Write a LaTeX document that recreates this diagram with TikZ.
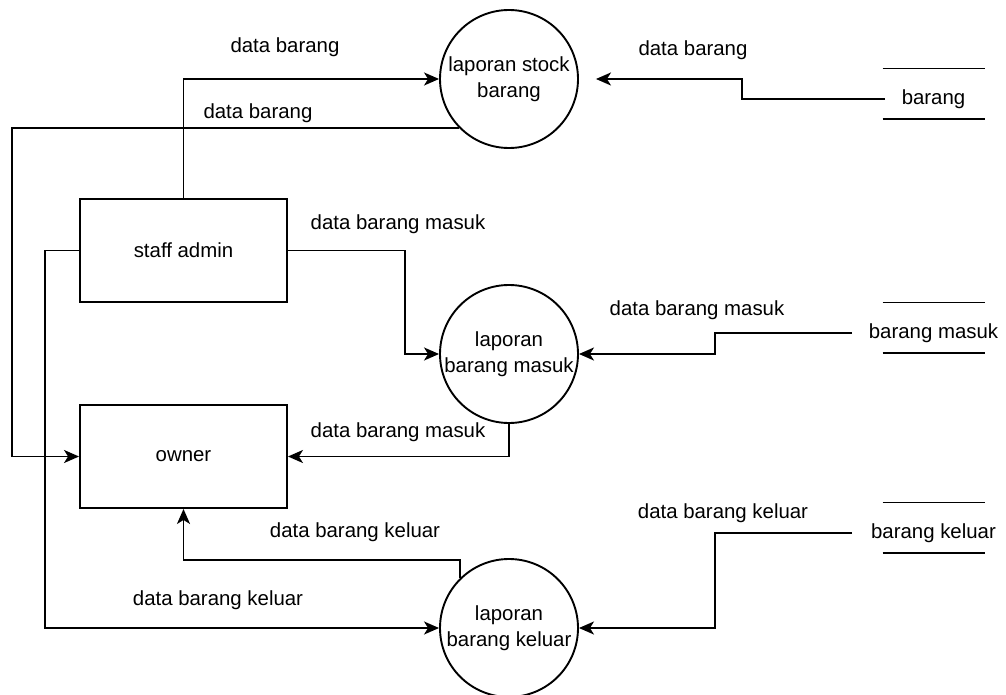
\documentclass[tikz,border=0pt]{standalone}
\usepackage{fontspec}
\setmainfont{Liberation Sans}
\usetikzlibrary{arrows.meta,calc}
\begin{document}
\begin{tikzpicture}[x=1pt,y=-1pt,
  font=\fontsize{20.4}{26}\selectfont,
  line width=1.9pt,
  flow/.style={draw, -{Stealth[length=15pt,width=13pt,inset=4pt]}},
  proc/.style={circle, draw, minimum size=138pt, inner sep=0pt, align=center},
  ent/.style={rectangle, draw, minimum width=207pt, minimum height=103pt, inner sep=0pt},
  store/.style={inner sep=0pt},
  lbl/.style={inner sep=0pt}
]
\useasboundingbox (0,0) rectangle (1006,695);

% processes
\node[proc] (stock)  at (509,79)  {laporan stock\\barang};
\node[proc] (masuk)  at (509,354) {laporan\\barang masuk};
\node[proc] (keluar) at (509,628) {laporan\\barang keluar};

% external entities
\node[ent] (staff) at (183.5,250.5) {staff admin};
\node[ent] (owner) at (183.5,456.5) {owner};

% data stores
\node[store] (dsb) at (933.5,99)  {barang};
\node[store] (dsm) at (933.5,333) {barang masuk};
\node[store] (dsk) at (933.5,533) {barang keluar};
\foreach \s in {dsb,dsm,dsk}{
  \draw ($(\s.center)+(-51,-30.5)$) -- ++(102,0);
  \draw ($(\s.center)+(-51,20)$) -- ++(102,0);
}
\coordinate (bout) at ($(dsb.center)+(-48.5,0)$);
\coordinate (mout) at ($(dsm.center)+(-81.5,0)$);
\coordinate (kout) at ($(dsk.center)+(-81.5,0)$);
\coordinate (lx) at (12,0);

% data flows
\draw[flow] (staff.north) |- (stock.west);
\draw[flow] (stock.224) -| (lx |- owner.west) -- (owner.west);
\draw[flow, shorten >=17pt] (bout) -| ($(stock.east)+(163,0)$) -- (stock.east);
\draw[flow] (staff.east) -| ($(masuk.west)+(-34,0)$) -- (masuk.west);
\draw[flow] (mout) -| ($(masuk.east)+(136,0)$) -- (masuk.east);
\draw[flow] (masuk.south) |- (owner.east);
\draw[flow] (staff.west) -| ($(keluar.west)+(-394,0)$) -- (keluar.west);
\draw[flow] (keluar.134) -- ++(0,-18) -| (owner.south);
\draw[flow] (kout) -| ($(keluar.east)+(136,0)$) -- (keluar.east);

% flow labels
\node[lbl] (l1) at (285,47)  {data barang};
\node[lbl] (l2) at (258,113) {data barang};
\node[lbl] (l3) at (693,50)  {data barang};
\node[lbl] (l4) at (398,224) {data barang masuk};
\node[lbl] (l5) at (697,310) {data barang masuk};
\node[lbl] (l6) at (398,432) {data barang masuk};
\node[lbl] (l7) at (355,532) {data barang keluar};
\node[lbl] (l8) at (218,600) {data barang keluar};
\node[lbl] (l9) at (723,513) {data barang keluar};
\end{tikzpicture}
\end{document}
